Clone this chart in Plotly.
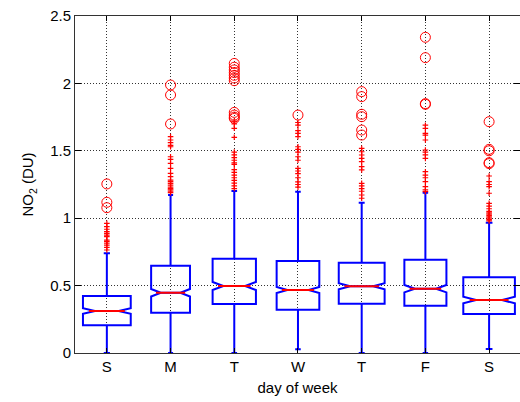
import plotly.graph_objects as go

# Daily NO2 column statistics (DU), Sunday .. Saturday
day_labels = ["S", "M", "T", "W", "T", "F", "S"]
q1 = [0.205, 0.299, 0.364, 0.321, 0.366, 0.351, 0.289]
median = [0.312, 0.447, 0.497, 0.467, 0.495, 0.477, 0.393]
q3 = [0.423, 0.648, 0.700, 0.682, 0.670, 0.692, 0.562]
lower_whisker = [0.0, 0.0, 0.0, 0.027, 0.0, 0.0, 0.030]
upper_whisker = [0.740, 1.172, 1.202, 1.197, 1.115, 1.189, 0.967]
notch_half = [0.021, 0.028, 0.030, 0.022, 0.022, 0.027, 0.025]
box_widths = [0.75, 0.61, 0.68, 0.67, 0.72, 0.66, 0.81]

# Outliers: "+" beyond the whiskers, circles for the extreme values
outliers = [
    [0.764, 0.784, 0.801, 0.814, 0.826, 0.838, 0.863, 0.875, 0.888, 0.900,
     0.918, 0.937, 0.962],
    [1.19, 1.20, 1.21, 1.22, 1.23, 1.245, 1.259, 1.271, 1.283, 1.308, 1.333,
     1.37, 1.407, 1.437, 1.456, 1.53, 1.54, 1.56, 1.58, 1.605],
    [1.22, 1.24, 1.26, 1.28, 1.30, 1.32, 1.34, 1.36, 1.40, 1.41, 1.43, 1.45,
     1.47, 1.49, 1.60, 1.667, 1.70, 1.72],
    [1.23, 1.25, 1.27, 1.30, 1.33, 1.35, 1.37, 1.43, 1.456, 1.49, 1.51, 1.53,
     1.605, 1.63, 1.65, 1.69, 1.71],
    [1.148, 1.172, 1.20, 1.22, 1.24, 1.259, 1.358, 1.382, 1.419, 1.444, 1.469,
     1.493, 1.518],
    [1.197, 1.21, 1.234, 1.271, 1.30, 1.32, 1.345, 1.444, 1.47, 1.49, 1.506,
     1.58, 1.617, 1.63, 1.667, 1.69],
    [0.98, 0.99, 1.00, 1.01, 1.02, 1.03, 1.04, 1.05, 1.07, 1.09, 1.11, 1.185,
     1.234, 1.25, 1.271, 1.313],
]
extremes = [
    [1.078, 1.118, 1.254],
    [1.699, 1.914, 1.988],
    [1.74, 1.75, 1.765, 1.785, 2.02, 2.04, 2.06, 2.08, 2.10, 2.12, 2.148],
    [1.765],
    [1.617, 1.654, 1.753, 1.771, 1.902, 1.939],
    [1.845, 1.85, 2.191, 2.342],
    [1.405, 1.412, 1.50, 1.511, 1.716],
]

y_ticks = [0, 0.5, 1, 1.5, 2, 2.5]
y_ticktext = ["0", "0.5", "1", "1.5", "2", "2.5"]

BLUE = "#0000ff"
RED = "#ff0000"
NOTCH_WIDTH = 0.25

positions = list(range(1, len(day_labels) + 1))
fig = go.Figure()

for i, pos in enumerate(positions):
    fig.add_trace(go.Box(
        x=[pos],
        q1=[q1[i]], median=[median[i]], q3=[q3[i]],
        lowerfence=[lower_whisker[i]], upperfence=[upper_whisker[i]],
        notchspan=[notch_half[i]],
        notched=True, notchwidth=NOTCH_WIDTH,
        width=box_widths[i], whiskerwidth=0.13,
        boxpoints=False,
        line=dict(color=BLUE, width=2),
        fillcolor="rgba(0,0,0,0)",
        hoverinfo="skip", showlegend=False,
    ))

# Red median bars spanning the notch waist
mx, my = [], []
for i, pos in enumerate(positions):
    half = box_widths[i] / 2 * (1 - NOTCH_WIDTH)
    mx += [pos - half, pos + half, None]
    my += [median[i], median[i], None]
fig.add_trace(go.Scatter(x=mx, y=my, mode="lines",
                         line=dict(color=RED, width=2),
                         hoverinfo="skip", showlegend=False))

px_, py_ = [], []
cx_, cy_ = [], []
for i, pos in enumerate(positions):
    px_ += [pos] * len(outliers[i])
    py_ += outliers[i]
    cx_ += [pos] * len(extremes[i])
    cy_ += extremes[i]

fig.add_trace(go.Scatter(x=px_, y=py_, mode="markers",
                         marker=dict(symbol="cross-thin-open", size=4,
                                     color=RED,
                                     line=dict(color=RED, width=1.2)),
                         hoverinfo="skip", showlegend=False))
fig.add_trace(go.Scatter(x=cx_, y=cy_, mode="markers",
                         marker=dict(symbol="circle-open", size=10,
                                     color=RED, line=dict(color=RED, width=1)),
                         hoverinfo="skip", showlegend=False))

FONT = "Liberation Sans, Arial, sans-serif"
GRID_DASH = "1px,2px"
fig.update_layout(
    width=520, height=402,
    margin=dict(l=75, r=0, t=16, b=49),
    paper_bgcolor="white", plot_bgcolor="white",
    font=dict(family=FONT, size=15, color="black"),
    showlegend=False,
    xaxis=dict(
        range=[0.5, 7.485],
        tickmode="array", tickvals=positions, ticktext=day_labels,
        ticks="inside", ticklen=5, tickcolor="black", tickwidth=1,
        showline=True, linecolor="#333333", linewidth=1, mirror="ticks",
        showgrid=True, gridcolor="#333333", griddash=GRID_DASH, gridwidth=1,
        zeroline=False,
        title=dict(text="day of week", standoff=8, font=dict(size=15)),
    ),
    yaxis=dict(
        range=[0, 2.5],
        tickmode="array", tickvals=y_ticks, ticktext=y_ticktext,
        ticks="inside", ticklen=6, tickcolor="black", tickwidth=1,
        showline=True, linecolor="#333333", linewidth=1, mirror="ticks",
        showgrid=True, gridcolor="#333333", griddash=GRID_DASH, gridwidth=1,
        zeroline=False,
        title=dict(text="NO<sub>2</sub> (DU)", standoff=12, font=dict(size=15)),
    ),
)

fig.write_html("out.html")
